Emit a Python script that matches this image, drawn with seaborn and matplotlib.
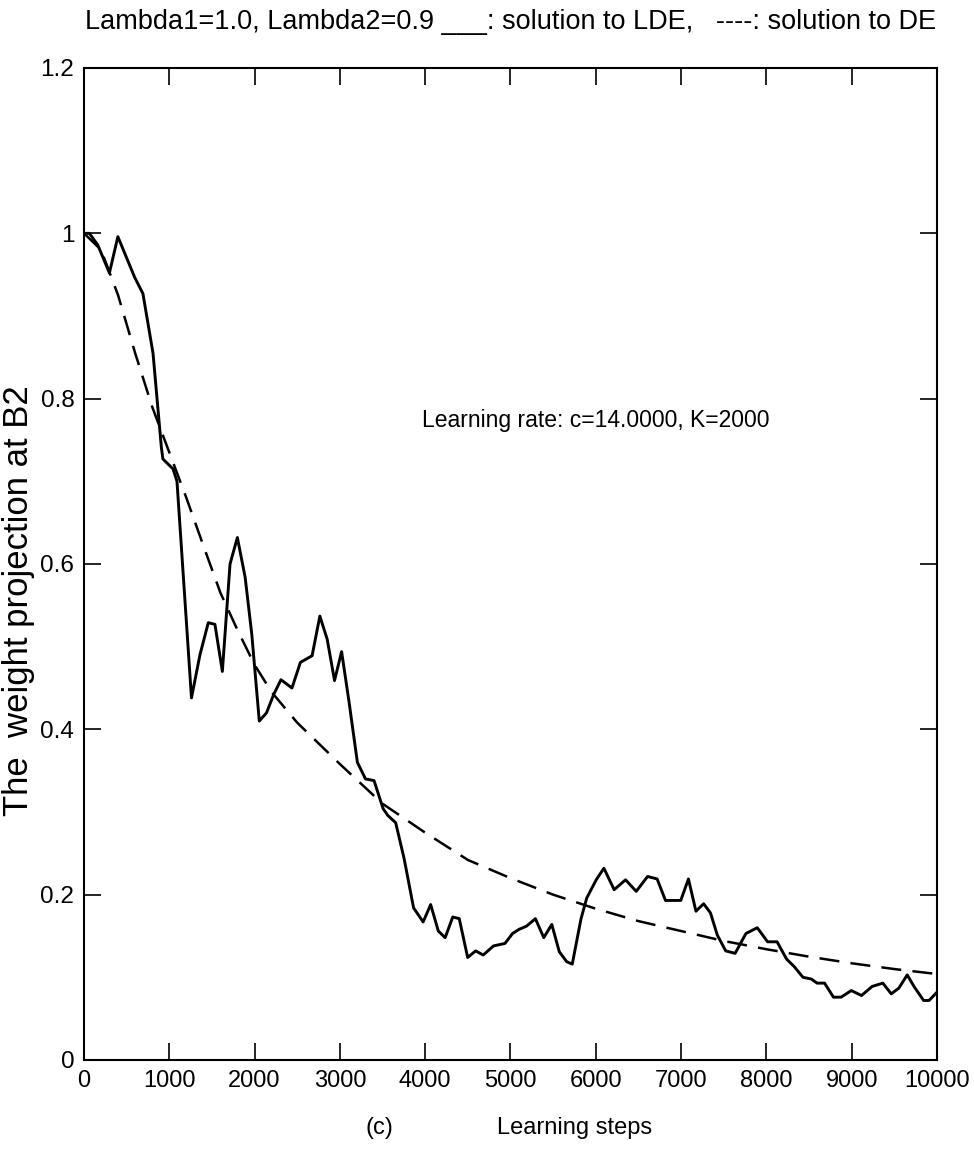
import numpy as np
import pandas as pd
import matplotlib
matplotlib.use("Agg")
import matplotlib.pyplot as plt
import seaborn as sns

# solution to LDE (solid line), vertices
lde_steps = [0, 63, 161, 298, 397, 593, 691, 809, 907, 925, 1044, 1090, 1260,
             1359, 1457, 1535, 1622, 1712, 1798, 1889, 1967, 2055, 2140, 2223,
             2309, 2438, 2537, 2674, 2765, 2851, 2937, 3020, 3106, 3205, 3300,
             3400, 3507, 3560, 3654, 3752, 3864, 3976, 4064, 4154, 4234, 4323,
             4399, 4498, 4591, 4680, 4801, 4935, 5024, 5100, 5189, 5292, 5390,
             5484, 5572, 5658, 5724, 5827, 5894, 6005, 6095, 6215, 6349, 6474,
             6607, 6719, 6817, 6996, 7086, 7174, 7264, 7344, 7425, 7523, 7633,
             7760, 7893, 8014, 8125, 8237, 8326, 8429, 8526, 8594, 8682, 8786,
             8875, 8995, 9115, 9240, 9365, 9464, 9553, 9651, 9730, 9843, 9907,
             10000]
lde_vals = [1.0, 1.0, 0.986, 0.952, 0.996, 0.947, 0.927, 0.855, 0.741, 0.727,
            0.715, 0.70, 0.438, 0.49, 0.529, 0.527, 0.47, 0.60, 0.632, 0.584,
            0.515, 0.41, 0.42, 0.442, 0.46, 0.45, 0.481, 0.489, 0.537, 0.509,
            0.459, 0.494, 0.434, 0.36, 0.34, 0.338, 0.304, 0.296, 0.287, 0.244,
            0.184, 0.167, 0.188, 0.156, 0.148, 0.173, 0.171, 0.124, 0.132,
            0.127, 0.138, 0.141, 0.153, 0.158, 0.162, 0.171, 0.148, 0.164,
            0.131, 0.119, 0.116, 0.171, 0.196, 0.218, 0.232, 0.206, 0.218,
            0.204, 0.222, 0.219, 0.193, 0.193, 0.219, 0.18, 0.189, 0.178,
            0.151, 0.132, 0.129, 0.153, 0.16, 0.143, 0.143, 0.122, 0.113, 0.10,
            0.098, 0.093, 0.093, 0.076, 0.076, 0.084, 0.078, 0.089, 0.093,
            0.08, 0.087, 0.103, 0.089, 0.072, 0.072, 0.082]

# solution to DE (dashed line)
de_steps = [0, 200, 400, 600, 800, 1000, 1200, 1400, 1600, 1800, 2000, 2200,
            2500, 3000, 3500, 4000, 4500, 5000, 5500, 6000, 6500, 7000, 7500,
            8000, 8500, 9000, 9500, 10000]
de_vals = [1.0, 0.98, 0.925, 0.855, 0.79, 0.735, 0.68, 0.622, 0.565, 0.52,
           0.478, 0.445, 0.408, 0.358, 0.31, 0.275, 0.242, 0.22, 0.2, 0.183,
           0.168, 0.156, 0.144, 0.134, 0.125, 0.117, 0.11, 0.104]

x_ticks = list(range(0, 10001, 1000))
y_ticks = [0, 0.2, 0.4, 0.6, 0.8, 1.0, 1.2]
y_labels = ["0", "0.2", "0.4", "0.6", "0.8", "1", "1.2"]

sns.set_style("ticks")
plt.rcParams["font.family"] = ["Liberation Sans", "DejaVu Sans"]
plt.rcParams["text.color"] = "black"
plt.rcParams["axes.labelcolor"] = "black"
plt.rcParams["xtick.color"] = "black"
plt.rcParams["ytick.color"] = "black"

lde = pd.DataFrame({"step": lde_steps, "w": lde_vals})
de = pd.DataFrame({"step": de_steps, "w": de_vals})

fig = plt.figure(figsize=(9.74, 11.49), dpi=100)
ax = fig.add_axes([84 / 974, 1 - 1060 / 1149, (937 - 84) / 974, (1060 - 68) / 1149])

sns.lineplot(data=lde, x="step", y="w", ax=ax, color="black", linewidth=2.1)
sns.lineplot(data=de, x="step", y="w", ax=ax, color="black", linewidth=1.8,
             linestyle=(0, (8, 4.5)))

ax.set_xlim(0, 10000)
ax.set_ylim(0, 1.2)
ax.set_xticks(x_ticks)
ax.set_xticklabels([str(t) for t in x_ticks], fontsize=17)
ax.set_yticks(y_ticks)
ax.set_yticklabels(y_labels, fontsize=17.5)
ax.tick_params(direction="in", length=12, width=1.2, top=True, right=True, pad=7)
for s in ax.spines.values():
    s.set_linewidth(1.5)
    s.set_color("black")

ax.set_xlabel("")
ax.set_ylabel("The  weight projection at B2", fontsize=25)
ax.yaxis.set_label_coords(-0.057, 0.463)
fig.text(379 / 974, 1 - 1128 / 1149, "(c)", fontsize=17, ha="center", va="center")
fig.text(575 / 974, 1 - 1128 / 1149, "Learning steps", fontsize=17, ha="center", va="center")
fig.text(511 / 974, 1 - 22 / 1149,
         "Lambda1=1.0, Lambda2=0.9 ___: solution to LDE,   ----: solution to DE",
         fontsize=19.5, ha="center", va="center")
ax.text(3960, 0.774, "Learning rate: c=14.0000, K=2000", fontsize=16.5, va="center")

fig.savefig("out.png", dpi=100)
